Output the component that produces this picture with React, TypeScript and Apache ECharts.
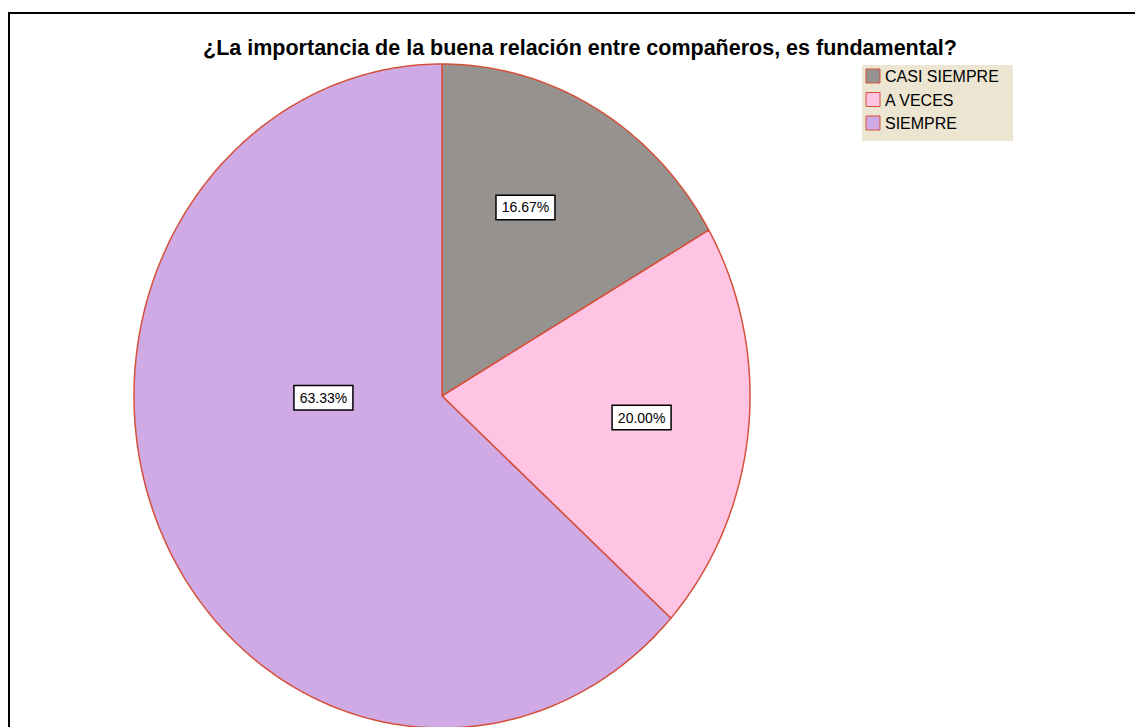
import React, { useEffect, useRef } from "react";
import * as echarts from "echarts";

const titleText = "¿La importancia de la buena relación entre compañeros, es fundamental?";
const categories = ["CASI SIEMPRE", "A VECES", "SIEMPRE"];
const values = [16.67, 20.0, 63.33];
const colors = ["#96928f", "#ffc4e3", "#d0aae5"];
// label placement as fractions of the ellipse radii (style only)
const labelOffsets = [
  [0.271, -0.568],
  [0.648, 0.065],
  [-0.385, 0.005],
];

const CX = 442;
const CY = 396;
const RX = 308;
const RY = 332;
const EDGE = "#d5503a";

export default function App() {
  const ref = useRef<HTMLDivElement>(null);
  useEffect(() => {
    if (!ref.current) return;
    const chart = echarts.init(ref.current, undefined, { renderer: "svg" });
    const total = values.reduce((a, b) => a + b, 0);
    const starts: number[] = [];
    let acc = 0;
    values.forEach((v) => {
      starts.push(acc);
      acc += v;
    });

    const legendItems: any[] = [];
    categories.forEach((c, i) => {
      legendItems.push({
        type: "rect",
        shape: { x: 866, y: 69 + i * 23.5, width: 14, height: 14 },
        style: { fill: colors[i], stroke: EDGE, lineWidth: 1 },
        z: 10,
      });
      legendItems.push({
        type: "text",
        x: 885,
        y: 76.5 + i * 23.5,
        style: {
          text: c,
          fill: "#000",
          font: '16px "Liberation Sans", Arial, sans-serif',
          verticalAlign: "middle",
          align: "left",
        },
        z: 10,
      });
    });

    chart.setOption({
      animation: false,
      backgroundColor: "#ffffff",
      title: {
        text: titleText,
        left: 575,
        top: 32,
        textAlign: "center",
        textStyle: {
          fontFamily: '"Liberation Sans", Arial, sans-serif',
          fontWeight: "bold",
          fontSize: 21.5,
          color: "#000",
        },
      },
      graphic: [
        {
          type: "rect",
          shape: { x: 9, y: 13, width: 1300, height: 900 },
          style: { fill: "none", stroke: "#000", lineWidth: 2 },
          z: 0,
        },
        {
          type: "rect",
          shape: { x: 862, y: 65, width: 151, height: 76 },
          style: { fill: "#ece5d1", stroke: "none" },
          z: 5,
        },
        ...legendItems,
      ],
      series: [
        {
          type: "custom",
          coordinateSystem: "none",
          data: values.map((v, i) => ({ name: categories[i], value: v })),
          renderItem: (params: any, api: any) => {
            const i = params.dataIndex;
            const v = api.value(0);
            const a0 = (starts[i] / total) * Math.PI * 2;
            const a1 = ((starts[i] + v) / total) * Math.PI * 2;
            const n = Math.max(8, Math.ceil(((a1 - a0) / (Math.PI * 2)) * 360));
            const pts: number[][] = [[CX, CY]];
            for (let k = 0; k <= n; k++) {
              const a = a0 + ((a1 - a0) * k) / n;
              pts.push([CX + RX * Math.sin(a), CY - RY * Math.cos(a)]);
            }
            const lo = labelOffsets[i];
            return {
              type: "group",
              children: [
                {
                  type: "polygon",
                  shape: { points: pts },
                  style: { fill: colors[i], stroke: EDGE, lineWidth: 1.5, lineJoin: "round" },
                },
                {
                  type: "text",
                  x: CX + lo[0] * RX,
                  y: CY + lo[1] * RY,
                  z2: 10,
                  style: {
                    text: v.toFixed(2) + "%",
                    fill: "#000",
                    font: '14px "Liberation Sans", Arial, sans-serif',
                    align: "center",
                    verticalAlign: "middle",
                    backgroundColor: "#fff",
                    borderColor: "#000",
                    borderWidth: 1.5,
                    padding: [5, 5, 4, 5],
                  },
                },
              ],
            };
          },
        },
      ],
    });
    return () => chart.dispose();
  }, []);
  return (
    <div
      ref={ref}
      style={{ position: "fixed", left: 0, top: 0, width: 1135, height: 727 }}
    />
  );
}
